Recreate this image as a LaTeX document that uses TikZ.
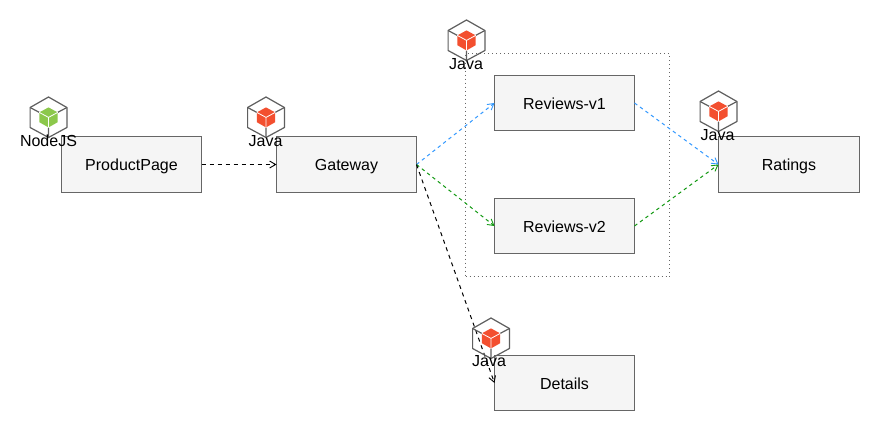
\documentclass[tikz,border=0pt]{standalone}
\usepackage{fontspec}
\setmainfont{Liberation Sans}
\usetikzlibrary{arrows.meta}
\definecolor{boxfill}{HTML}{F5F5F5}
\definecolor{boxline}{HTML}{666666}
\definecolor{iconline}{HTML}{5F5F5F}
\definecolor{arrowblue}{HTML}{3399FF}
\definecolor{arrowgreen}{HTML}{119911}
\definecolor{javared}{HTML}{F34F2F}
\definecolor{nodegreen}{HTML}{8CC84B}
\tikzset{
  x=1pt,y=-1pt,
  every node/.style={font=\fontsize{16}{19}\selectfont},
  svc/.style={draw=boxline,fill=boxfill,line width=1pt,minimum width=140pt,minimum height=56pt,inner sep=0pt,text height=15.5pt,text depth=3pt,outer sep=0pt},
  group/.style={draw=boxline,line width=1pt,dash pattern=on 1pt off 3pt,minimum width=204pt,minimum height=223pt,inner sep=0pt,outer sep=0pt},
  flow/.style={line width=1pt,dash pattern=on 3.4pt off 3.4pt,-{Straight Barb[length=6pt,width=7pt,line width=0.9pt]}},
  flowblack/.style={flow,black,dash pattern=on 4pt off 4pt},
  lang/.style={inner sep=0pt,text=black},
  cube/.pic={
    \draw[iconline,line width=1.2pt,line join=round]
      (0,-20) -- (18.4,-9.5) -- (18.4,10.5) -- (0,20.5) -- (-18.4,10.5) -- (-18.4,-9.5) -- cycle;
    \draw[iconline,line width=1.2pt] (-18.4,-9.5) -- (-9.2,-4.6) (18.4,-9.5) -- (9.2,-4.6) (0,20.5) -- (0,10.5);
    \fill[pic actions] (0,-9.6) -- (9.2,-4.6) -- (9.2,5.2) -- (0,10.4) -- (-9.2,5.2) -- (-9.2,-4.6) -- cycle;
    \draw[white,line width=0.8pt] (-9.2,-4.6) -- (0,0.4) -- (9.2,-4.6) (0,0.4) -- (0,10.4);
  }
}
\begin{document}
\begin{tikzpicture}
\useasboundingbox (0,0) rectangle (880,431);
\fill[white] (0,0) rectangle (880,431);
\node[group] (grp) at (567.5,165) {};
\node[svc] (pp) at (131.5,164.5) {ProductPage};
\node[svc] (gw) at (346.5,164.5) {Gateway};
\node[svc,minimum height=55pt] (v1) at (564.5,103) {Reviews-v1};
\node[svc,minimum height=55pt] (v2) at (564.5,226) {Reviews-v2};
\node[svc,minimum width=141pt] (rt) at (789,164.5) {Ratings};
\node[svc,minimum height=55pt] (dt) at (564.5,383) {Details};
\draw[flowblack] (pp.east) -- (gw.west);
\draw[flow,arrowblue] (gw.east) -- (v1.west);
\draw[flow,arrowgreen] (gw.east) -- (v2.west);
\draw[flowblack] (gw.east) -- (dt.west);
\draw[flow,arrowblue] (v1.east) -- (rt.west);
\draw[flow,arrowgreen] (v2.east) -- (rt.west);
\pic[fill=nodegreen] at (48.5,117) {cube};
\node[lang] (l1) at (48.5,141) {NodeJS};
\pic[fill=javared] at (266,117) {cube};
\node[lang] (l2) at (265.5,141) {Java};
\pic[fill=javared] at (466.5,40) {cube};
\node[lang] (l3) at (466,64) {Java};
\pic[fill=javared] at (491,338) {cube};
\node[lang] (l4) at (489,361.5) {Java};
\pic[fill=javared] at (718.5,111) {cube};
\node[lang] (l5) at (717.5,135) {Java};
\end{tikzpicture}
\end{document}
